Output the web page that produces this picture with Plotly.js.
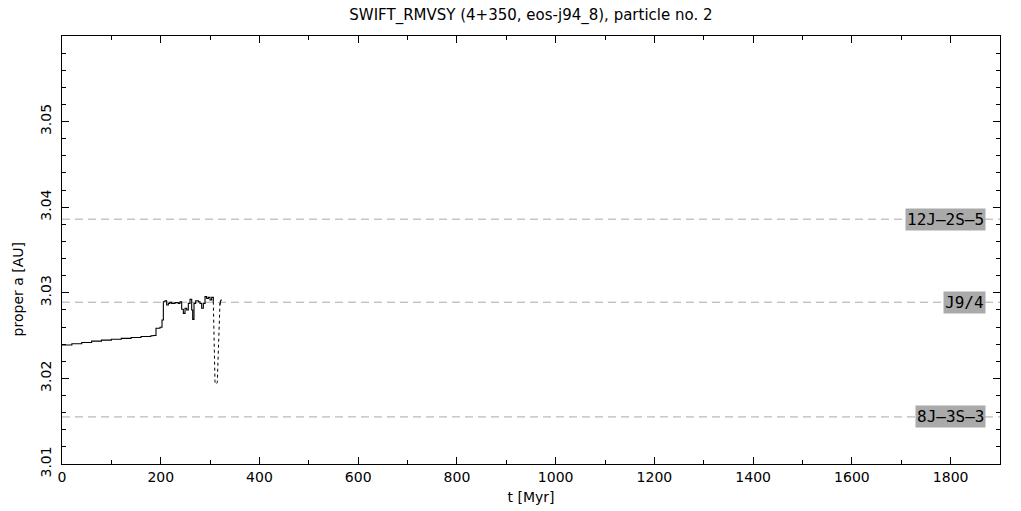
<!DOCTYPE html>
<html>
<head>
<meta charset="utf-8">
<script src="https://cdn.plot.ly/plotly-3.0.1.min.js"></script>
<style>html,body{margin:0;padding:0;background:#fff;}#chart{width:1021px;height:511px;}</style>
</head>
<body>
<div id="chart"></div>
<script>
// Solid part of proper a(t)
var tSolid = [0, 20, 40, 60, 80, 100, 120, 140, 160, 180, 185, 190.4, 198.5, 202.6, 205.3, 208.6, 212.0, 215.4, 218.8, 222.1, 228.9, 235.6, 239.0, 242.4, 245.8, 249.2, 252.5, 255.9, 259.3, 262.7, 264.7, 267.4, 270.8, 276.2, 279.5, 282.9, 286.3, 289.7, 293.0, 296.4, 299.8, 303.2, 306.5];
var aSolid = [3.0239, 3.02405, 3.0242, 3.02435, 3.02447, 3.02458, 3.02468, 3.02478, 3.0249, 3.02499, 3.02502, 3.02585, 3.02597, 3.02682, 3.02896, 3.02908, 3.02857, 3.02877, 3.02889, 3.02877, 3.02885, 3.02877, 3.02896, 3.02807, 3.0276, 3.02819, 3.02799, 3.02877, 3.02924, 3.02799, 3.0269, 3.02877, 3.02908, 3.02896, 3.02877, 3.02819, 3.02877, 3.02955, 3.02935, 3.02947, 3.02916, 3.02947, 3.02896];
// Dotted dip
var tDot = [306.5, 307.2, 309.9, 312.0, 314.5, 316.7, 318.3, 320.0];
var aDot = [3.02896, 3.0262, 3.0196, 3.0193, 3.0195, 3.0232, 3.0275, 3.0288];
// Solid tail
var tTail = [320.0, 321.5, 323.4];
var aTail = [3.0286, 3.0291, 3.0292];
// Resonances
var resNames = ["12J\u20132S\u20135", "J9/4", "8J\u20133S\u20133"];
var resA = [3.0386, 3.0289, 3.0155];
// Axes
var xRange = [0, 1900];
var yRange = [3.01, 3.06];
var xTicks = [0, 200, 400, 600, 800, 1000, 1200, 1400, 1600, 1800];
var yTicks = [3.01, 3.02, 3.03, 3.04, 3.05];
var yTickText = ["3.01", "3.02", "3.03", "3.04", "3.05"];
var labelX = 1872;
var yTitleA = 3.0304;

var FONT = "DejaVu Sans, Liberation Sans, sans-serif";
var MONO = "DejaVu Sans Mono, Liberation Mono, monospace";

var traces = [
  {x: tSolid, y: aSolid, mode: "lines", line: {color: "#000", width: 1.1, shape: "hv"}, hoverinfo: "skip"},
  {x: tDot, y: aDot, mode: "lines", line: {color: "#000", width: 1, dash: "dot"}, hoverinfo: "skip"},
  {x: tTail, y: aTail, mode: "lines", line: {color: "#000", width: 1.1}, hoverinfo: "skip"}
];

var shapes = resA.map(function (a) {
  return {type: "line", xref: "paper", x0: 0, x1: 1, yref: "y", y0: a, y1: a,
    line: {color: "#aaaaaa", width: 1, dash: "8px,5px"}, layer: "below"};
});
var annotations = resNames.map(function (n, i) {
  return {x: labelX, y: resA[i], xref: "x", yref: "y", text: n, showarrow: false,
    xanchor: "right", yanchor: "middle", bgcolor: "#aaaaaa", borderpad: 1,
    font: {family: MONO, size: 16, color: "#000"}};
});
annotations.push({x: 0, xref: "paper", xshift: -44, y: yTitleA, yref: "y", text: "proper a [AU]",
  textangle: -90, showarrow: false, xanchor: "center", yanchor: "middle",
  font: {family: FONT, size: 14, color: "#000"}});

var axisCommon = {
  showgrid: false, zeroline: false, showline: true, linecolor: "#000", linewidth: 1,
  mirror: "allticks", ticks: "inside", ticklen: 7, tickcolor: "#000", tickwidth: 1,
  tickfont: {family: FONT, size: 14, color: "#000"}
};

var layout = {
  width: 1021, height: 511,
  margin: {l: 62, r: 21, t: 36, b: 47},
  paper_bgcolor: "#fff", plot_bgcolor: "#fff",
  showlegend: false,
  title: {text: "SWIFT_RMVSY (4+350, eos-j94_8), particle no. 2", x: 0.52, xanchor: "center", y: 0.972, yanchor: "middle",
    font: {family: FONT, size: 15, color: "#000"}},
  xaxis: Object.assign({}, axisCommon, {
    range: xRange, autorange: false, tickmode: "array", tickvals: xTicks,
    minor: {dtick: 100, tick0: 0, ticks: "inside", ticklen: 4, tickcolor: "#000"},
    title: {text: "t [Myr]", standoff: 8, font: {family: FONT, size: 14, color: "#000"}}
  }),
  yaxis: Object.assign({}, axisCommon, {
    range: yRange, autorange: false, tickangle: -90, tickmode: "array", tickvals: yTicks, ticktext: yTickText,
    ticklabelstandoff: 4,
    minor: {dtick: 0.002, tick0: 3.01, ticks: "inside", ticklen: 4, tickcolor: "#000"}
  }),
  shapes: shapes,
  annotations: annotations
};

Plotly.newPlot("chart", traces, layout, {staticPlot: true, displayModeBar: false});
</script>
</body>
</html>
